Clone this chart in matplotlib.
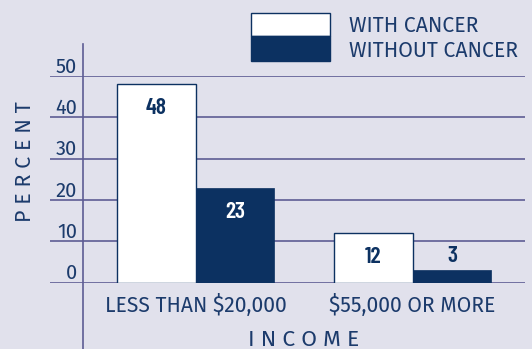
import numpy as np
import matplotlib
matplotlib.use("Agg")
import matplotlib.pyplot as plt
from matplotlib.patches import Rectangle

# survey data: share of respondents by income group
groups = ["LESS THAN $20,000", "$55,000 OR MORE"]
with_cancer = [48, 12]
without_cancer = [23, 3]
series_names = ["WITH CANCER", "WITHOUT CANCER"]
yticks = [0, 10, 20, 30, 40, 50]

bg = "#e1e1ec"
navy = "#0c3161"
ink = "#1c3b6c"
rule = "#5e5c94"
light_font = "Fira Sans"
num_font = "Barlow Condensed"

W, H = 532, 349
fig = plt.figure(figsize=(W / 100, H / 100), dpi=100, facecolor=bg)

# plot area in pixels: x 50..525, y 76..283 (from top)
ax = fig.add_axes([50 / W, (H - 282.7) / H, 475 / W, (282.7 - 76) / H])
ax.set_facecolor(bg)
for s in ax.spines.values():
    s.set_visible(False)

x = np.arange(len(groups))
bw = 0.3627
ax.set_xlim(-0.671, 1.518)
ax.set_ylim(0, 50)

# horizontal rules at every tick
for t in yticks:
    ax.axhline(t, color=rule, lw=1.2, zorder=1)
# y axis line, running past the plot area
ax.axvline(-0.519, ymin=-0.33, ymax=1.155, color=rule, lw=1.2, clip_on=False, zorder=1)

b1 = ax.bar(x - bw / 2, with_cancer, bw, color="white", edgecolor=navy, linewidth=1.0, zorder=3)
b2 = ax.bar(x + bw / 2, without_cancer, bw, color=navy, edgecolor=navy, linewidth=0.5, zorder=3)

# value labels inside the bars, above the bar when it is too short
for rects, vals, col in ((b1, with_cancer, navy), (b2, without_cancer, "white")):
    for r, v in zip(rects, vals):
        cx = r.get_x() + r.get_width() / 2
        if v >= 8:
            ax.annotate(str(v), (cx, v), xytext=(0, -10), textcoords="offset points",
                        ha="center", va="top", color=col, family=num_font,
                        weight=600, fontsize=17, zorder=4)
        else:
            ax.annotate(str(v), (cx, v), xytext=(0, 3), textcoords="offset points",
                        ha="center", va="bottom", color=navy, family=num_font,
                        weight=600, fontsize=17, zorder=4)

ax.set_xticks([])
ax.set_yticks([])
# y tick labels sit just above their rules
for t in yticks:
    ax.text((77 - 50) / 475, t + 0.8, str(t), transform=ax.get_yaxis_transform(),
            ha="right", va="baseline", color=ink, family=light_font, fontsize=14.5)

# category labels under each group
for xi, g in zip(x, groups):
    ax.text(xi, -7.2, g, ha="center", va="baseline", color=ink,
            family=light_font, fontsize=15.2)

ax.text(0.5 * (x[0] + x[1]), -15.3, "I N C O M E", ha="center", va="baseline",
        color=ink, family=light_font, fontsize=16.5)
fig.text(25 / W, 1 - 162 / H, "P E R C E N T", rotation=90, ha="center", va="center",
         color=ink, family=light_font, fontsize=15.5)

# legend: stacked swatch with two labels
lx0, lx1, ly0, ly1, lym = 251, 330.3, 13.3, 60.7, 36
fig.patches.append(Rectangle((lx0 / W, 1 - lym / H), (lx1 - lx0) / W, (lym - ly0) / H,
                             transform=fig.transFigure, facecolor="white", edgecolor=navy, lw=1.0))
fig.patches.append(Rectangle((lx0 / W, 1 - ly1 / H), (lx1 - lx0) / W, (ly1 - lym) / H,
                             transform=fig.transFigure, facecolor=navy, edgecolor=navy, lw=1.0))
fig.text(348.7 / W, 1 - 32 / H, series_names[0], ha="left", va="baseline",
         color=ink, family=light_font, fontsize=15.3)
fig.text(348.7 / W, 1 - 56.7 / H, series_names[1], ha="left", va="baseline",
         color=ink, family=light_font, fontsize=15.3)

fig.savefig("out.png", dpi=100, facecolor=bg)
